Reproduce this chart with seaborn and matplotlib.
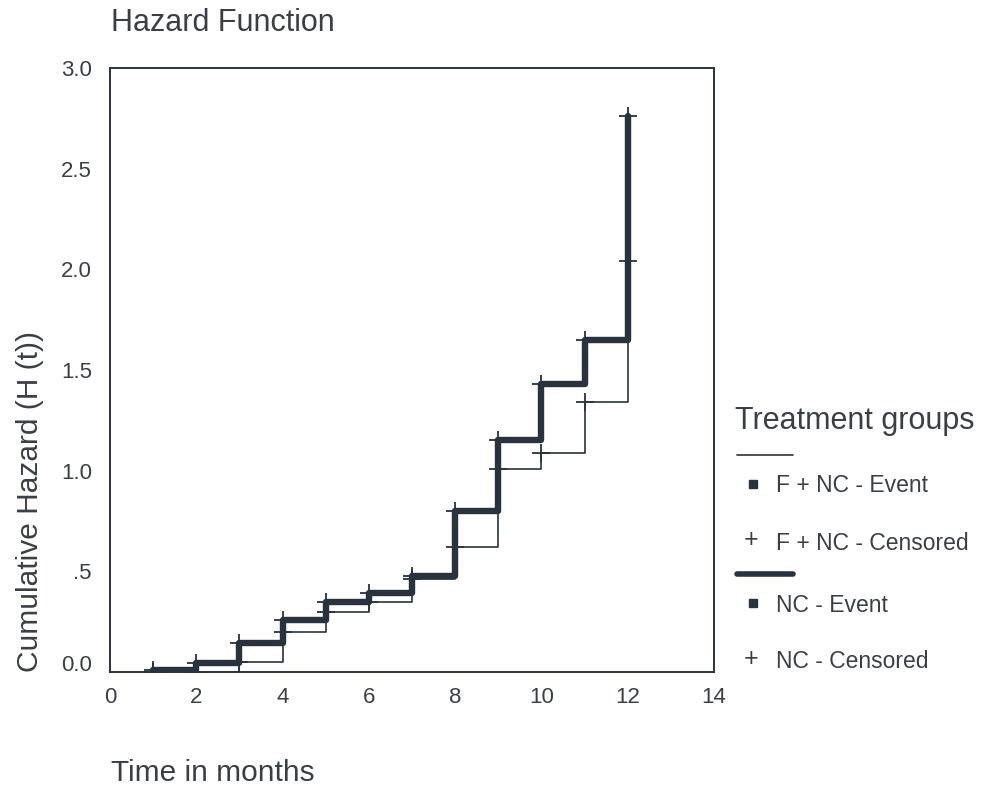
import matplotlib
matplotlib.use("Agg")
import matplotlib.pyplot as plt
import matplotlib.transforms as mtransforms
import seaborn as sns
import pandas as pd
from matplotlib.lines import Line2D

# Data
times = [1, 2, 3, 4, 5, 6, 7, 8, 9, 10, 11, 12]
nc_hazard = [0.01, 0.045, 0.145, 0.26, 0.35, 0.39, 0.475, 0.80, 1.15, 1.43, 1.65, 2.76]
fnc_hazard = [0.0, 0.0, 0.05, 0.20, 0.30, 0.35, 0.46, 0.62, 1.01, 1.09, 1.34, 2.04]
x_ticks = [0, 2, 4, 6, 8, 10, 12, 14]
y_ticks = [0.0, 0.5, 1.0, 1.5, 2.0, 2.5, 3.0]
y_tick_labels = ["0.0", ".5", "1.0", "1.5", "2.0", "2.5", "3.0"]
group_names = ["F + NC", "NC"]

sns.set_theme(style="white")
plt.rcParams["font.family"] = ["Liberation Sans", "DejaVu Sans"]

INK = "#2a323e"
TXT = "#3a3f46"

df_fnc = pd.DataFrame({"time": times, "hazard": fnc_hazard})
df_nc = pd.DataFrame({"time": times, "hazard": nc_hazard})

fig = plt.figure(figsize=(9.84, 7.91), dpi=100)
ax = fig.add_axes([110 / 984, 1 - 672 / 791, (714 - 110) / 984, (672 - 68) / 791])

sns.lineplot(data=df_fnc, x="time", y="hazard", ax=ax, drawstyle="steps-post",
             color=INK, linewidth=1.2, estimator=None)
sns.lineplot(data=df_nc, x="time", y="hazard", ax=ax, drawstyle="steps-post",
             color=INK, linewidth=4.6, estimator=None)
sns.scatterplot(data=df_fnc, x="time", y="hazard", ax=ax, marker="+", s=160,
                color=INK, linewidth=1.3, zorder=5)
sns.scatterplot(data=df_nc, x="time", y="hazard", ax=ax, marker="+", s=160,
                color=INK, linewidth=1.3, zorder=5)

ax.set_xlim(0, 14)
ax.set_ylim(0, 3.0)
ax.set_xticks(x_ticks)
ax.set_yticks(y_ticks)
ax.set_yticklabels(y_tick_labels)
ax.tick_params(axis="both", which="both", direction="out", length=3, width=3,
               color=INK, labelsize=16, labelcolor=TXT)
ax.tick_params(axis="x", pad=8)
ax.tick_params(axis="y", pad=10)
# the 0.0 label sits a little higher in the reference
lbl0 = ax.get_yticklabels()[0]
lbl0.set_transform(lbl0.get_transform() + mtransforms.ScaledTranslation(0, 9 / 100, fig.dpi_scale_trans))
for sp in ax.spines.values():
    sp.set_visible(True)
    sp.set_color(INK)
    sp.set_linewidth(1.4)
ax.set_xlabel("")
ax.set_ylabel("")

fig.text(111 / 984, 1 - 23 / 791, "Hazard Function", fontsize=22, color=TXT,
         ha="left", va="center")
fig.text(111 / 984, 1 - 773 / 791, "Time in months", fontsize=21.5, color=TXT,
         ha="left", va="center")
fig.text(30 / 984, 1 - 501 / 791, "Cumulative Hazard (H (t))", fontsize=21.5,
         color=TXT, rotation=90, ha="center", va="center")

# Legend drawn manually
def fx(px):
    return px / 984
def fy(py):
    return 1 - py / 791

fig.text(fx(735), fy(421), "Treatment groups", fontsize=22, color=TXT,
         ha="left", va="center")

for name, lw, ly in [(group_names[0], 1.2, 455), (group_names[1], 4.0, 574)]:
    fig.add_artist(Line2D([fx(737), fx(793)], [fy(ly), fy(ly)], color=INK, linewidth=lw))
    ev_y = ly + 31
    ce_y = ly + 88
    fig.add_artist(Line2D([fx(753)], [fy(ev_y - 2)], marker="s", markersize=6,
                          color=INK, linestyle="none"))
    fig.text(fx(744), fy(ce_y - 3), "+", fontsize=18, color=TXT,
             ha="left", va="center")
    fig.text(fx(776), fy(ev_y), f"{name} - Event", fontsize=16.5, color=TXT,
             ha="left", va="center")
    fig.text(fx(776), fy(ce_y), f"{name} - Censored", fontsize=16.5, color=TXT,
             ha="left", va="center")

fig.savefig("out.png", dpi=100, facecolor="white")
